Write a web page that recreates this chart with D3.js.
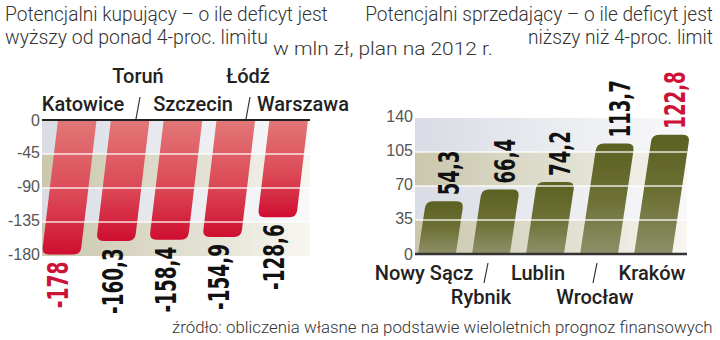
<!DOCTYPE html>
<html><head><meta charset="utf-8">
<script src="https://cdn.jsdelivr.net/npm/d3@7"></script>
<style>body{margin:0;background:#fff}svg{display:block}</style>
</head><body>
<script>
// ---- data ----
const buyersCats = ["Katowice","Toruń","Szczecin","Łódź","Warszawa"];
const buyersVals = [-178, -160.3, -158.4, -154.9, -128.6];
const buyersTicks = [0, -45, -90, -135, -180];
const sellersCats = ["Nowy Sącz","Rybnik","Lublin","Wrocław","Kraków"];
const sellersVals = [54.3, 66.4, 74.2, 113.7, 122.8];
const sellersTicks = [0, 35, 70, 105, 140];
const titleLeft = ["Potencjalni kupujący – o ile deficyt jest","wyższy od ponad 4-proc. limitu"];
const titleRight = ["Potencjalni sprzedający – o ile deficyt jest","niższy niż 4-proc. limit"];
const unitText = "w mln zł, plan na 2012 r.";
const sourceText = "źródło: obliczenia własne na podstawie wieloletnich prognoz finansowych";

const W = 720, H = 340;
const svg = d3.select("body").append("svg").attr("width", W).attr("height", H);
const defs = svg.append("defs");
const fmt = v => (Math.round(v*10)/10).toString().replace(".", ",");

function lin(id, x2, y2, stops){
  const g = defs.append("linearGradient").attr("id", id).attr("x1",0).attr("y1",0).attr("x2",x2).attr("y2",y2);
  stops.forEach(s => g.append("stop").attr("offset", s[0]).attr("stop-color", s[1]));
}
lin("gGray", 1, 0, [[0,"#d9dce4"],[0.6,"#eceef2"],[1,"#f9f9fa"]]);
lin("gBeige", 1, 0, [[0,"#cac7ad"],[0.6,"#e3e1d3"],[1,"#f7f6f1"]]);
lin("gRed", 0, 1, [[0,"#e27777"],[0.55,"#dc4a57"],[1,"#cf0e30"]]);
lin("gOlive", 0, 1, [[0,"#5b6121"],[0.5,"#6c7034"],[1,"#8e9068"]]);

const txtFont = "Roboto, 'Liberation Sans', sans-serif";
const numFont = "'DejaVu Sans Condensed','Liberation Sans',sans-serif";

// horizontally squeeze a text (placed at origin) to a target advance length
function squeeze(sel, target, pre, post){
  const n = sel.node().getComputedTextLength();
  sel.attr("transform", `${pre} ${post || ""} scale(${target/n},1)`);
}

// ---- titles ----
function ttl(text, x, y, size, len, anchor){
  const t = svg.append("text").attr("x", 0).attr("y", 0).attr("font-family", txtFont).attr("font-weight", 300)
    .attr("font-size", size).attr("fill", "#333").attr("text-anchor", anchor || "start").text(text);
  squeeze(t, len, `translate(${x},${y})`);
}
ttl(titleLeft[0], 5, 21, 21, 323);
ttl(titleLeft[1], 5, 44, 21, 263);
ttl(unitText, 273, 55, 19, 220);
ttl(titleRight[0], 713, 21, 21, 348, "end");
ttl(titleRight[1], 713, 44, 21, 185, "end");
ttl(sourceText, 172, 333, 16, 541);

// narrow-bold advance widths (em) used to size value labels
const narrowW = ch => ch === "," ? 0.228 : ch === "-" ? 0.3 : 0.456;
const labelLen = (s, size) => s.split("").reduce((a, ch) => a + narrowW(ch), 0) * size;

// ---- shared helpers ----
function bandsBg(g, ticks, yScale, x0, x1){
  const sorted = ticks.slice().sort((a,b)=>yScale(a)-yScale(b));
  for (let i=0;i<sorted.length-1;i++){
    const ya = yScale(sorted[i]), yb = yScale(sorted[i+1]);
    g.append("rect").attr("x", x0).attr("y", ya).attr("width", x1-x0).attr("height", yb-ya)
      .attr("fill", i%2===0 ? "url(#gGray)" : "url(#gBeige)");
  }
}
function grid(g, ticks, yScale, x0, x1, skip){
  ticks.filter(t => !skip.includes(t)).forEach(t => {
    g.append("line").attr("x1", x0).attr("x2", x1).attr("y1", yScale(t)).attr("y2", yScale(t))
      .attr("stroke", "#fff").attr("stroke-width", 1.6).attr("stroke-opacity", 0.85);
  });
}
function tickLabels(g, ticks, yScale, x, dyShift){
  ticks.forEach(t => {
    g.append("text").attr("x", x).attr("y", yScale(t) + (t === 0 ? 0 : dyShift)).attr("dy", "0.35em")
      .attr("text-anchor", "end").attr("font-family", "'Liberation Sans', sans-serif")
      .attr("font-size", 16).attr("fill", "#555").text(fmt(t));
  });
}
function catLabel(g, text, x, y){
  g.append("text").attr("x", x).attr("y", y).attr("text-anchor", "middle")
    .attr("font-family", txtFont).attr("font-weight", 500).attr("font-size", 20)
    .attr("fill", "#222").text(text);
}
function slash(g, x, y1, y2){
  g.append("line").attr("x1", x+2).attr("x2", x-2).attr("y1", y1).attr("y2", y2)
    .attr("stroke", "#333").attr("stroke-width", 1.2);
}
function valueLabel(g, v, cx, ty, anchor, red){
  const s = fmt(v);
  const t = g.append("text").attr("x", 0).attr("y", 0)
    .attr("dy", "0.36em").attr("text-anchor", anchor)
    .attr("font-family", numFont).attr("font-weight", "bold").attr("font-size", 28)
    .attr("fill", red ? "#cc1236" : "#111").text(s);
  squeeze(t, labelLen(s, 28), `translate(${cx},${ty})`, "rotate(-90)");
}

// ---- left chart (buyers) ----
const L = svg.append("g");
const lx0 = 42, lx1 = 310;
const yL = d3.scaleLinear().domain([-180, 0]).range([256, 120]);
const xL = d3.scaleBand().domain(buyersCats).range([58, 308]).paddingInner(0.27).paddingOuter(0);
const slantL = 0.12, r = 7;
bandsBg(L, buyersTicks, yL, lx0, lx1);
buyersCats.forEach((c, i) => {
  const v = buyersVals[i], y0 = yL(0), yv = yL(v), bx = xL(c), bw = xL.bandwidth();
  const xl = y => bx - slantL*(y-y0), xr = y => bx + bw - slantL*(y-y0);
  const p = `M${xl(y0)},${y0}L${xr(y0)},${y0}L${xr(yv-r)},${yv-r}Q${xr(yv)},${yv} ${xr(yv)-r},${yv}` +
            `L${xl(yv)+r},${yv}Q${xl(yv)},${yv} ${xl(yv-r)},${yv-r}Z`;
  L.append("path").attr("d", p).attr("fill", "url(#gRed)");
});
grid(L, buyersTicks, yL, lx0, lx1, [0, -180]);
L.append("line").attr("x1", lx0).attr("x2", lx1).attr("y1", yL(0)).attr("y2", yL(0))
  .attr("stroke", "#222").attr("stroke-width", 2);
tickLabels(L, buyersTicks, yL, 40, -2);
buyersCats.forEach((c, i) => {
  const v = buyersVals[i], y0 = yL(0), yv = yL(v);
  const cx = xL(c) + xL.bandwidth()/2 - slantL*(yv-y0) - 3;
  valueLabel(L, v, cx, yv + 7, "end", v === d3.min(buyersVals));
});
const lblL = d3.scalePoint().domain(buyersCats).range([83, 303]);
buyersCats.forEach((c, i) => catLabel(L, c, lblL(c), i % 2 === 1 ? 83 : 111));
slash(L, (lblL(buyersCats[0]) + lblL(buyersCats[2]))/2, 97, 119);
slash(L, (lblL(buyersCats[2]) + lblL(buyersCats[4]))/2, 97, 119);

// ---- right chart (sellers) ----
const R = svg.append("g");
const rx0 = 415, rx1 = 687;
const yR = d3.scaleLinear().domain([0, 140]).range([254, 118]);
const xR = d3.scaleBand().domain(sellersCats).range([418, 672]).paddingInner(0.3).paddingOuter(0);
const slantR = 0.15;
bandsBg(R, sellersTicks, yR, rx0, rx1);
sellersCats.forEach((c, i) => {
  const v = sellersVals[i], y0 = yR(0), yv = yR(v), bx = xR(c), bw = xR.bandwidth();
  const xl = y => bx + slantR*(y0-y), xr = y => bx + bw + slantR*(y0-y);
  const p = `M${xl(y0)},${y0}L${xl(yv+r)},${yv+r}Q${xl(yv)},${yv} ${xl(yv)+r},${yv}` +
            `L${xr(yv)-r},${yv}Q${xr(yv)},${yv} ${xr(yv+r)},${yv+r}L${xr(y0)},${y0}Z`;
  R.append("path").attr("d", p).attr("fill", "url(#gOlive)");
});
grid(R, sellersTicks, yR, rx0, rx1, [0, 140]);
R.append("line").attr("x1", rx0).attr("x2", rx1).attr("y1", yR(0)).attr("y2", yR(0))
  .attr("stroke", "#333").attr("stroke-width", 2.5);
tickLabels(R, sellersTicks, yR, 413, -2);
sellersCats.forEach((c, i) => {
  const v = sellersVals[i], y0 = yR(0), yv = yR(v);
  const cx = xR(c) + xR.bandwidth()/2 + slantR*(y0-yv) + 4;
  valueLabel(R, v, cx, yv - 6, "start", v === d3.max(sellersVals));
});
const lblR = d3.scalePoint().domain(sellersCats).range([424, 652]);
sellersCats.forEach((c, i) => catLabel(R, c, lblR(c), i % 2 === 1 ? 304 : 280));
slash(R, (lblR(sellersCats[0]) + lblR(sellersCats[2]))/2 + 5, 263, 283);
slash(R, (lblR(sellersCats[2]) + lblR(sellersCats[4]))/2, 263, 283);
</script>
</body></html>
